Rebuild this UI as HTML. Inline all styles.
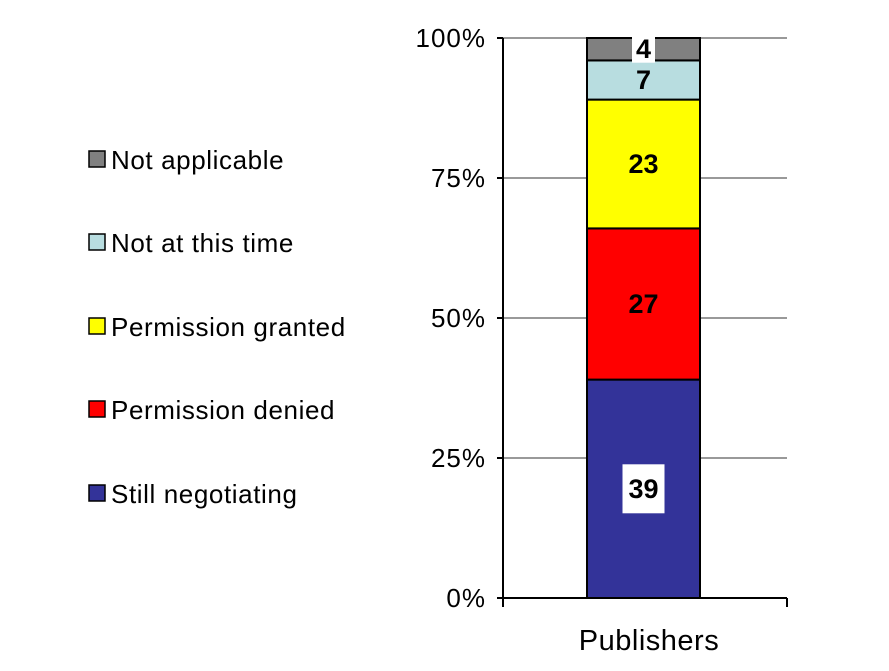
<!DOCTYPE html>
<html><head><meta charset="utf-8"><style>
body{margin:0;background:#fff;}
svg{display:block;font-family:"Liberation Sans",Arial,sans-serif;}
</style></head><body>
<svg id="chart" width="889" height="671"></svg>
<script>
const categories=["Publishers"];
const seriesNames=["Still negotiating","Permission denied","Permission granted","Not at this time","Not applicable"];
const seriesValues=[39,27,23,7,4];
const seriesColors=["#333399","#ff0000","#ffff00","#b8dde0","#808080"];
const labelBoxed=[true,false,false,false,true];
const tickValues=[0,25,50,75,100];
const tickLabels=["0%","25%","50%","75%","100%"];
const NS="http://www.w3.org/2000/svg";
const svg=document.getElementById('chart');
function mk(t,a,p){const e=document.createElementNS(NS,t);for(const k in a)e.setAttribute(k,a[k]);(p||svg).appendChild(e);return e;}
const x0=503,x1=787,yb=598,yt=38;
function y(v){return yb-(v/100)*(yb-yt);}
const barL=587,barR=700;
tickValues.forEach((v,i)=>{
  if(v>0){const g=mk('line',{x1:x0,x2:x1,y1:y(v),y2:y(v),stroke:'#999','stroke-width':2});
  
  }
  const t=mk('line',{x1:497,x2:x0,y1:y(v),y2:y(v),stroke:'#000','stroke-width':2});
  
  
  const l=mk('text',{x:486,y:y(v)+9,'text-anchor':'end','font-size':26,'letter-spacing':1,fill:'#000'});
  l.textContent=tickLabels[i];
  
  
});
let cum=0;
seriesValues.forEach((v,i)=>{
  const top=y(cum+v),bot=y(cum);
  const r=mk('rect',{x:barL,y:top,width:barR-barL,height:bot-top,fill:seriesColors[i],stroke:'#000','stroke-width':2});
  
  
  const cy=(top+bot)/2, cx=(barL+barR)/2;
  if(labelBoxed[i]){
    const w=String(v).length>1?42:23, h=String(v).length>1?49:27;
    const b=mk('rect',{x:cx-w/2,y:cy-h/2,width:w,height:h,fill:'#fff'});
    
    
  }
  const t=mk('text',{x:cx,y:cy+9,'text-anchor':'middle','font-size':27,'font-weight':'bold',fill:'#000'});
  t.textContent=v;
  
  
  cum+=v;
});
const ax=mk('line',{x1:x0,x2:x0,y1:yt,y2:yb,stroke:'#000','stroke-width':2});


const xa=mk('line',{x1:x0,x2:x1,y1:yb,y2:yb,stroke:'#000','stroke-width':2});


[x0,x1].forEach(xx=>{const t=mk('line',{x1:xx,x2:xx,y1:yb,y2:yb+9,stroke:'#000','stroke-width':2});

});
const cl=mk('text',{x:(x0+x1)/2+4,y:650,'text-anchor':'middle','font-size':29,'letter-spacing':0.5,fill:'#000'});
cl.textContent=categories[0];


const legY=[494,410,327,243,160];
seriesNames.forEach((n,i)=>{
  const yy=legY[i];
  const s=mk('rect',{x:89,y:yy-9,width:16,height:16,fill:seriesColors[i],stroke:'#000','stroke-width':1.5});
  
  
  const t=mk('text',{x:111,y:yy+9,'font-size':26,'letter-spacing':0.6,fill:'#000'});
  t.textContent=n;
  
  
});
</script>
</body></html>
